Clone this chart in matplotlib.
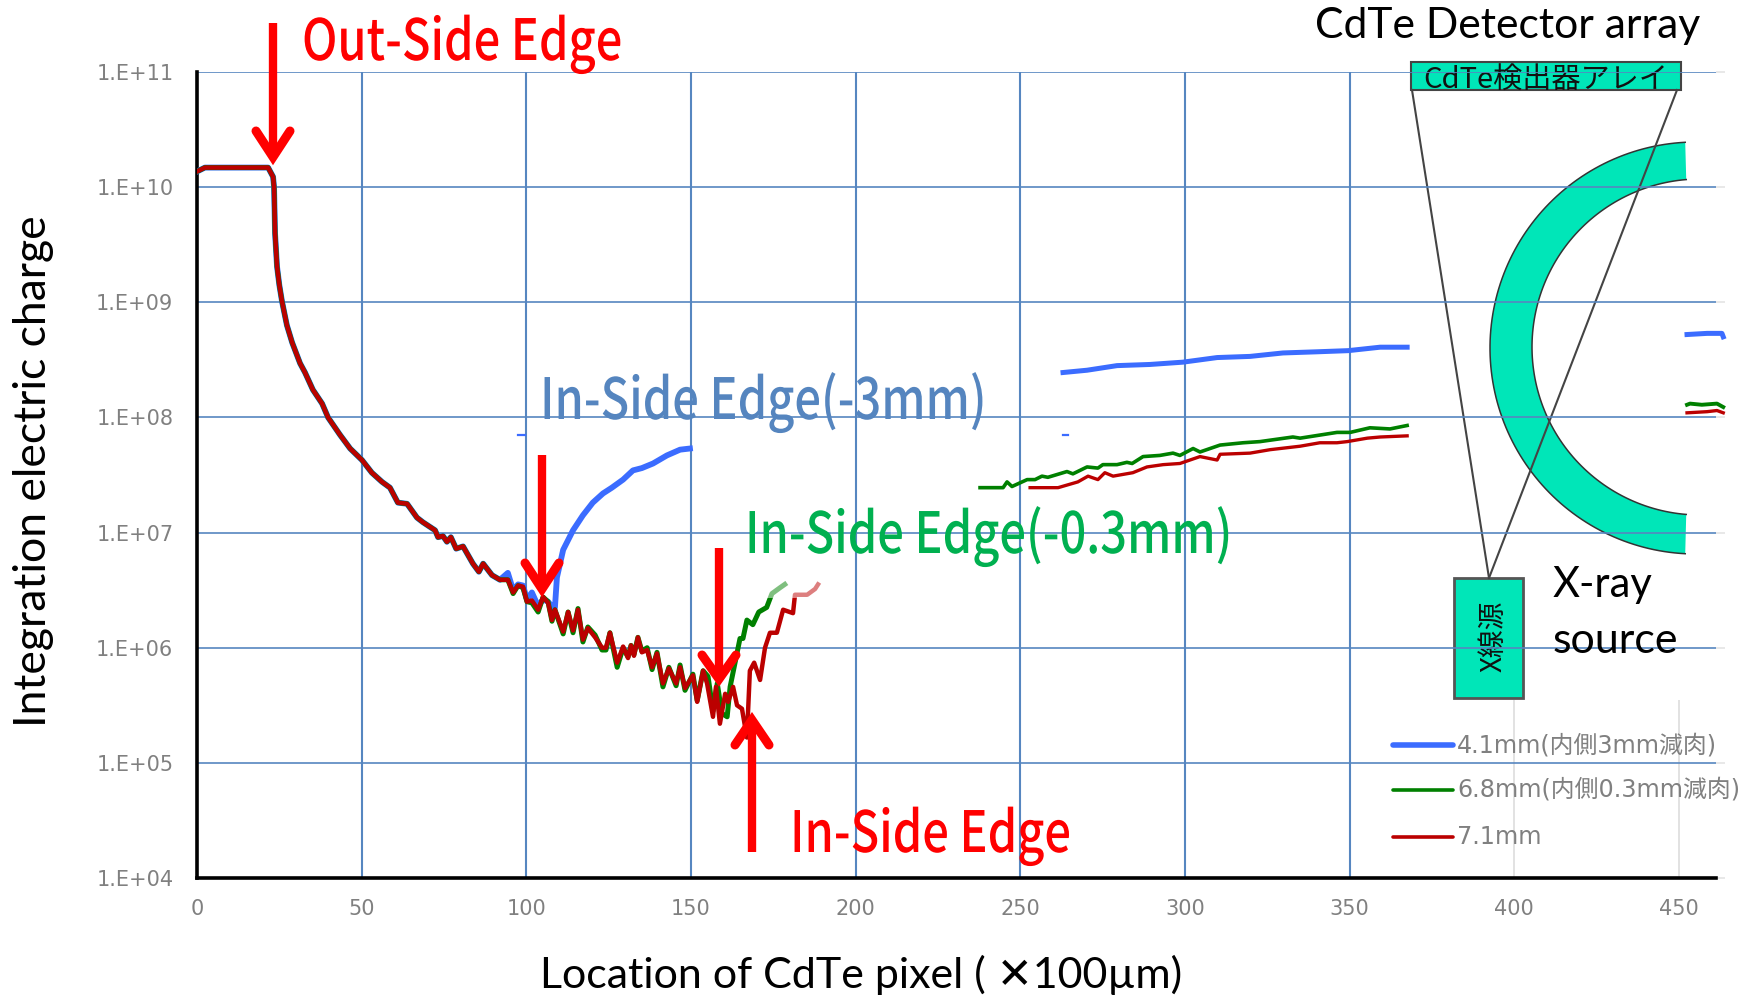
#!/usr/bin/env python3
import numpy as np
import matplotlib
matplotlib.use('Agg')
import matplotlib.pyplot as plt
from matplotlib.patches import Rectangle
from matplotlib.patheffects import AbstractPathEffect
from matplotlib.transforms import Affine2D

# charge is kept as log10 of the value
shared_x = [0.3, 2.4, 21.6, 23.1, 23.4, 23.7, 24.3, 25.0, 25.8, 27.3, 28.9, 31.3, 32.8, 35.2, 38.0, 39.8,
            43.4, 46.5, 50.1, 53.1, 56.2, 58.6, 61.0, 63.8, 66.8, 68.6, 72.3, 73.2, 74.7, 75.9,
            77.1, 78.7, 80.8, 83.8, 85.6, 86.9, 89.6, 92.0]
shared_log = [10.14, 10.17, 10.17, 10.09, 10.00, 9.60, 9.31, 9.15, 9.01, 8.80, 8.65, 8.47, 8.39, 8.24, 8.12, 8.00,
              7.85, 7.73, 7.63, 7.52, 7.44, 7.39, 7.26, 7.25, 7.13, 7.09, 7.02, 6.96, 6.97, 6.92,
              6.96, 6.86, 6.88, 6.73, 6.66, 6.73, 6.63, 6.59]

red_x = [94.4, 96.0, 97.5, 99.0, 100.2, 101.7, 103.6, 105.1, 106.6, 107.8, 108.7, 111.2, 112.7, 114.2,
         115.7, 117.2, 118.7, 120.9, 123.0, 124.2, 125.4, 127.6, 129.4, 130.9, 131.8, 132.7, 133.9,
         135.1, 136.7, 138.2, 139.7, 141.5, 143.3, 145.5, 146.7, 148.2, 150.6, 151.9, 153.7, 154.9,
         156.7, 157.6, 158.8, 160.4, 161.3, 162.8, 164.0, 165.5, 167.0, 167.9, 169.2, 171.0, 172.5,
         174.0, 176.1, 178.0, 181.0, 181.6, 185.3, 187.7, 188.6]
red_log = [6.59, 6.48, 6.54, 6.53, 6.40, 6.41, 6.33, 6.44, 6.39, 6.24, 6.33, 6.14, 6.31, 6.15,
           6.33, 6.07, 6.17, 6.09, 6.00, 6.00, 6.13, 5.87, 6.01, 5.91, 6.02, 5.93, 6.09,
           5.96, 5.98, 5.83, 5.95, 5.69, 5.82, 5.69, 5.83, 5.65, 5.76, 5.53, 5.80, 5.69,
           5.40, 5.66, 5.34, 5.60, 5.53, 5.66, 5.50, 5.47, 5.22, 5.80, 5.87, 5.72, 6.00,
           6.13, 6.13, 6.33, 6.30, 6.46, 6.46, 6.51, 6.55]

green_x = [94.4, 96.0, 97.5, 99.0, 100.2, 101.7, 103.6, 105.1, 106.6, 107.8, 108.7, 111.2, 112.7, 114.2,
           115.7, 117.2, 118.7, 120.9, 123.0, 124.2, 125.4, 127.6, 129.4, 130.9, 131.8, 132.7, 133.9,
           135.1, 136.7, 138.2, 139.7, 141.5, 143.3, 145.5, 146.7, 148.2, 150.6, 151.9, 153.7, 155.2,
           156.7, 158.0, 159.4, 161.0, 161.9, 163.4, 164.9, 165.8, 167.0, 168.8, 170.6, 173.0, 174.6,
           177.0, 178.5]
green_log = [6.59, 6.47, 6.54, 6.52, 6.40, 6.39, 6.31, 6.44, 6.40, 6.23, 6.33, 6.12, 6.31, 6.13,
             6.34, 6.05, 6.18, 6.11, 5.98, 5.98, 6.13, 5.83, 6.00, 5.92, 6.02, 5.94, 6.09,
             5.97, 6.00, 5.81, 5.96, 5.66, 5.83, 5.67, 5.85, 5.63, 5.77, 5.54, 5.80, 5.75,
             5.45, 5.69, 5.43, 5.40, 5.66, 5.87, 6.08, 6.08, 6.24, 6.20, 6.31, 6.35, 6.47,
             6.52, 6.55]

blue_x = [94.4, 96.0, 97.5, 99.0, 100.2, 101.7, 103.6, 105.1, 106.6, 108.0, 108.7, 109.3, 111.2, 114.2,
          117.2, 120.2, 123.3, 126.0, 129.4, 132.4, 135.1, 138.5, 142.7, 146.7, 149.7]
blue_log = [6.65, 6.50, 6.55, 6.54, 6.42, 6.48, 6.36, 6.42, 6.40, 6.35, 6.35, 6.61, 6.85, 7.02,
            7.15, 7.26, 7.34, 7.39, 7.46, 7.54, 7.56, 7.60, 7.67, 7.72, 7.73]

# parts of the curves that show to the right of the white-out
blue_mid_x = [263.0, 270.3, 279.4, 289.4, 299.4, 309.8, 319.8, 329.8, 340.1, 349.6, 359.3, 367.5]
blue_mid_log = [8.39, 8.41, 8.45, 8.46, 8.48, 8.52, 8.53, 8.56, 8.57, 8.58, 8.61, 8.61]
green_mid_x = [237.8, 244.8, 246.0, 247.5, 252.1, 254.5, 256.6, 258.4, 264.2, 266.0, 270.3, 273.6, 275.1,
               279.4, 282.4, 284.0, 287.3, 292.4, 296.4, 298.5, 302.5, 304.6, 310.7, 317.7, 322.8,
               332.8, 335.0, 346.2, 350.2, 356.2, 362.3, 367.5]
green_mid_log = [7.39, 7.39, 7.44, 7.40, 7.46, 7.46, 7.49, 7.48, 7.53, 7.51, 7.57, 7.56, 7.59,
                 7.59, 7.61, 7.60, 7.66, 7.67, 7.69, 7.67, 7.73, 7.70, 7.76, 7.78, 7.79,
                 7.83, 7.82, 7.87, 7.87, 7.91, 7.90, 7.93]
red_mid_x = [253.0, 261.5, 267.5, 270.6, 273.6, 275.7, 278.2, 284.2, 288.5, 293.4, 298.5, 304.6, 309.8,
             310.7, 319.8, 325.9, 335.0, 341.0, 346.2, 349.3, 355.4, 359.3, 367.5]
red_mid_log = [7.39, 7.39, 7.44, 7.49, 7.46, 7.52, 7.49, 7.52, 7.57, 7.59, 7.60, 7.66, 7.63,
               7.68, 7.69, 7.72, 7.75, 7.78, 7.78, 7.79, 7.82, 7.83, 7.84]

blue_end_x = [452.5, 458.6, 463.1, 463.5]
blue_end_log = [8.72, 8.73, 8.73, 8.70]
green_end_x = [452.5, 453.4, 457.0, 461.6, 463.5]
green_end_log = [8.11, 8.12, 8.11, 8.12, 8.09]
red_end_x = [452.5, 458.6, 461.6, 463.5]
red_end_log = [8.04, 8.05, 8.06, 8.04]

x_ticks = [0, 50, 100, 150, 200, 250, 300, 350, 400, 450]
y_ticks = [1e4, 1e5, 1e6, 1e7, 1e8, 1e9, 1e10, 1e11]
y_labels = ['1.E+04', '1.E+05', '1.E+06', '1.E+07', '1.E+08', '1.E+09', '1.E+10', '1.E+11']

BLUE = '#3b6cff'
GREEN = '#008000'
RED = '#bb0000'
GRID = '#5686c0'
TEAL = '#00e6b8'
SANS = ['Lato', 'Noto Sans CJK JP', 'DejaVu Sans']
GOTHIC = ['Noto Sans CJK JP', 'DejaVu Sans']
MIXED = ['DejaVu Sans', 'Noto Sans CJK JP']

W, H = 1752, 998
fig = plt.figure(figsize=(W / 100, H / 100), dpi=100)


class Squeeze(AbstractPathEffect):
    # the reference labels are a condensed gothic, no such font here
    def __init__(self, x0, sx):
        super().__init__()
        self.x0, self.sx = x0, sx

    def draw_path(self, renderer, gc, tpath, affine, rgbFace=None):
        sq = Affine2D().translate(-self.x0, 0).scale(self.sx, 1).translate(self.x0, 0)
        renderer.draw_path(gc, tpath, affine + sq, rgbFace)


def pixel_axes(z):
    a = fig.add_axes([0, 0, 1, 1], zorder=z)
    a.set_xlim(0, W)
    a.set_ylim(H, 0)
    a.axis('off')
    a.patch.set_alpha(0)
    return a


# detector sketch sits under the gridlines
back = pixel_axes(0)
t_out = np.radians(np.linspace(93, 267, 120))
t_in = np.radians(np.linspace(94.7, 265.3, 120))
ox, oy = 1696 + 206 * np.cos(t_out), 348 - 206 * np.sin(t_out)
ix, iy = 1700 + 168 * np.cos(t_in), 347 - 168 * np.sin(t_in)
back.fill(np.r_[ox, ix[::-1]], np.r_[oy, iy[::-1]], color=TEAL, lw=0)
back.plot(ox, oy, color='#333333', lw=1.1)
back.plot(ix, iy, color='#333333', lw=1.1)
back.add_patch(Rectangle((1411, 62), 270, 28, fc=TEAL, ec='#444444', lw=1.5))
back.add_patch(Rectangle((1454, 578), 69, 120, fc=TEAL, ec='#555555', lw=2))
back.plot([1412, 1489], [90, 578], color='#444444', lw=1.5)
back.plot([1677, 1489], [90, 578], color='#444444', lw=1.5)
back.text(1546, 80, 'CdTe検出器アレイ', fontsize=21, family=GOTHIC, ha='center', va='center', color='#111111')
back.text(1493, 636, 'X線源', fontsize=20, family=GOTHIC, rotation=90, ha='center', va='center', color='#111111')

ax = fig.add_axes([197 / W, (H - 878) / H, 1519 / W, 806 / H], zorder=1)
ax.patch.set_alpha(0)
ax.set_yscale('log')
ax.set_xlim(0, 461.3)
ax.set_ylim(1e4, 1e11)
ax.set_xticks(x_ticks)
ax.set_yticks(y_ticks)
ax.set_yticklabels(y_labels)
ax.minorticks_off()
ax.tick_params(length=0, labelsize=15, labelcolor='#808080', pad=17)
ax.tick_params(axis='x', pad=15)
for s in ['top', 'right']:
    ax.spines[s].set_visible(False)
for s in ['left', 'bottom']:
    ax.spines[s].set_linewidth(2.6)
ax.grid(axis='y', color=GRID, lw=1.2)
ax.vlines(x_ticks[1:8], 1e4, 1e11, color=GRID, lw=1.5, zorder=1.5)
ax.vlines(x_ticks[8:], 1e4, 3.5e5, color='#dddddd', lw=1.2, zorder=1.5)
ax.hlines(y_ticks, 461.3, 464, color='#e4e4e4', lw=1.2, clip_on=False)

styles = [(BLUE, 4.2), (GREEN, 3.6), (RED, 3.2)]
tails = [(blue_x, blue_log), (green_x, green_log), (red_x, red_log)]
for (c, lw), (tx, tl) in zip(styles, tails):
    ax.plot(shared_x + tx, 10.0 ** np.array(shared_log + tl), color=c, lw=lw, solid_joinstyle='round', zorder=3)

mids = [(blue_mid_x, blue_mid_log, BLUE, 3.6), (green_mid_x, green_mid_log, GREEN, 2.6), (red_mid_x, red_mid_log, RED, 2.4),
        (blue_end_x, blue_end_log, BLUE, 3.6), (green_end_x, green_end_log, GREEN, 2.8), (red_end_x, red_end_log, RED, 2.4)]
for mx, ml, c, lw in mids:
    ax.plot(mx, 10.0 ** np.array(ml), color=c, lw=lw, zorder=3, clip_on=False)
# two stray dashes left by the white-out
ax.plot([97.5, 99.5], [7.1e7, 7.1e7], color=BLUE, lw=1.6, zorder=3)
ax.plot([263, 264.5], [7.1e7, 7.1e7], color=BLUE, lw=1.6, zorder=3)

top = pixel_axes(2)


def red_arrow(x, y0, tip, wing_dx, wing_dy):
    top.plot([x, x], [y0, tip], color='#ff0000', lw=6, solid_capstyle='butt')
    top.plot([x - wing_dx, x, x + wing_dx], [tip + wing_dy, tip, tip + wing_dy], color='#ff0000', lw=6.5,
             solid_capstyle='round', solid_joinstyle='miter')


red_arrow(273, 23, 157, 17, -26)
red_arrow(542, 455, 589, 17, -26)
red_arrow(719, 548, 679, 17, -24)
red_arrow(752, 852, 720, 17, 25)
top.add_patch(Rectangle((719.5, 545), 110, 53, fc='white', alpha=0.5, lw=0))


def big_label(x, y, label, color):
    top.text(x, y, label, color=color, fontsize=41, family=GOTHIC, fontweight='medium', va='baseline',
             path_effects=[Squeeze(x, 0.825)])


big_label(302, 60, 'Out-Side Edge', '#ff0000')
big_label(540, 419, 'In-Side Edge(-3mm)', '#5585bf')
big_label(745, 553, 'In-Side Edge(-0.3mm)', '#00b050')
big_label(790, 852, 'In-Side Edge', '#ff0000')

top.text(1315, 38, 'CdTe Detector array', fontsize=30.7, family=SANS, color='black')
top.text(1553, 597, 'X-ray', fontsize=30, family=SANS, color='black')
top.text(1553, 653, 'source', fontsize=31, family=SANS, color='black')
top.text(34, 471, 'Integration electric charge', fontsize=32, family=SANS, rotation=90, ha='center', va='center')
top.text(861, 975, 'Location of CdTe pixel ( ✕100µm)', fontsize=31, family=SANS, ha='center', va='center')

legend_rows = [(745, BLUE, 4, '4.1mm(内側3mm減肉)'), (790, GREEN, 2.6, '6.8mm(内側0.3mm減肉)'), (837, RED, 2.6, '7.1mm')]
for y, c, lw, label in legend_rows:
    top.plot([1393, 1453], [y, y], color=c, lw=lw, solid_capstyle='round')
    top.text(1457, y, label, fontsize=17.2, family=MIXED, color='#808080', va='center')

plt.savefig('out.png', dpi=100)
plt.close()
